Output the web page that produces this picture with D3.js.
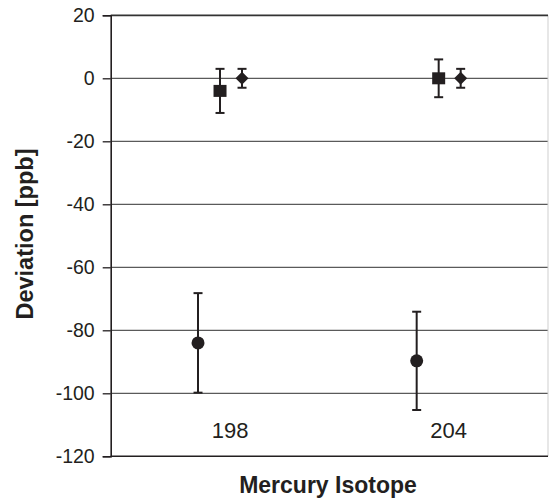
<!DOCTYPE html>
<html>
<head>
<meta charset="utf-8">
<script src="https://cdn.jsdelivr.net/npm/d3@7"></script>
<style>
  html, body { margin: 0; padding: 0; background: #fff; }
  svg { display: block; font-family: "Liberation Sans", Arial, Helvetica, sans-serif; }
</style>
</head>
<body>
<svg id="chart" width="549" height="499"></svg>
<script>
// Isotopes on the x axis
const isotopes = ["198", "204"];
// Y axis ticks
const yTicks = [20, 0, -20, -40, -60, -80, -100, -120];

// Deviation values and error bar half-widths per series
const squareValues = [-4, 0];
const squareErrors = [7, 6];
const diamondValues = [0, 0];
const diamondErrors = [3, 3];
const circleValues = [-84, -89.7];
const circleErrors = [15.8, 15.6];

const ink = "#231f20";
const svg = d3.select("#chart");

const plotLeft = 110.7, plotRight = 548, plotTop = 15.3, plotBottom = 456.3;

const x = d3.scaleBand().domain(isotopes).range([plotLeft, plotRight]);
const y = d3.scaleLinear().domain([-120, 20]).range([plotBottom, plotTop]);

// horizontal gridlines
svg.append("g")
  .selectAll("line")
  .data(yTicks.filter(t => t !== 20 && t !== -120))
  .join("line")
  .attr("x1", plotLeft).attr("x2", plotRight)
  .attr("y1", d => y(d)).attr("y2", d => y(d))
  .attr("stroke", "#5a5a5a")
  .attr("stroke-width", 1.2);

// right border of plot area
svg.append("line")
  .attr("x1", plotRight).attr("x2", plotRight)
  .attr("y1", plotTop).attr("y2", plotBottom)
  .attr("stroke", "#cfcfcf").attr("stroke-width", 1);

// top edge
svg.append("line")
  .attr("x1", plotLeft).attr("x2", plotRight)
  .attr("y1", y(20)).attr("y2", y(20))
  .attr("stroke", "#333").attr("stroke-width", 1.8);

// bottom edge
svg.append("line")
  .attr("x1", plotLeft).attr("x2", plotRight)
  .attr("y1", y(-120)).attr("y2", y(-120))
  .attr("stroke", ink).attr("stroke-width", 1.6);

// left axis
const yAxis = d3.axisLeft(y)
  .tickValues(yTicks)
  .tickSize(8)
  .tickPadding(8)
  .tickFormat(d3.format("d"));

const yg = svg.append("g")
  .attr("transform", `translate(${plotLeft},0)`)
  .call(yAxis);
yg.select(".domain").attr("stroke", ink).attr("stroke-width", 1.6);
yg.selectAll(".tick line").attr("stroke", ink).attr("stroke-width", 1.3);
yg.selectAll(".tick text")
  .attr("fill", ink)
  .attr("font-size", 19.5)
  .attr("font-family", "\"Liberation Sans\", Arial, sans-serif")
  .text(d => d < 0 ? "-" + Math.abs(d) : d);

// category labels inside the plot area
svg.append("g")
  .selectAll("text")
  .data(isotopes)
  .join("text")
  .attr("x", d => x(d) + x.bandwidth() / 2 + 10)
  .attr("y", 438)
  .attr("text-anchor", "middle")
  .attr("font-size", 22)
  .attr("fill", ink)
  .text(d => d);

// series: values, errors, offset within the band, marker shape
const series = [
  { values: circleValues, errors: circleErrors, offset: -22, shape: "circle" },
  { values: squareValues, errors: squareErrors, offset: 0, shape: "square" },
  { values: diamondValues, errors: diamondErrors, offset: 22, shape: "diamond" }
];

const capHalf = 4.5;

series.forEach(s => {
  const pts = isotopes.map((iso, i) => ({
    cx: x(iso) + x.bandwidth() / 2 + s.offset,
    v: s.values[i],
    e: s.errors[i]
  }));
  const g = svg.append("g");

  // error bars
  g.selectAll("line.stem").data(pts).join("line")
    .attr("class", "stem")
    .attr("x1", d => d.cx).attr("x2", d => d.cx)
    .attr("y1", d => y(d.v + d.e)).attr("y2", d => y(d.v - d.e))
    .attr("stroke", ink).attr("stroke-width", 2);
  g.selectAll("line.capTop").data(pts).join("line")
    .attr("class", "capTop")
    .attr("x1", d => d.cx - capHalf).attr("x2", d => d.cx + capHalf)
    .attr("y1", d => y(d.v + d.e)).attr("y2", d => y(d.v + d.e))
    .attr("stroke", ink).attr("stroke-width", 2);
  g.selectAll("line.capBot").data(pts).join("line")
    .attr("class", "capBot")
    .attr("x1", d => d.cx - capHalf).attr("x2", d => d.cx + capHalf)
    .attr("y1", d => y(d.v - d.e)).attr("y2", d => y(d.v - d.e))
    .attr("stroke", ink).attr("stroke-width", 2);

  // markers
  if (s.shape === "circle") {
    g.selectAll("circle").data(pts).join("circle")
      .attr("cx", d => d.cx).attr("cy", d => y(d.v))
      .attr("r", 6.5).attr("fill", ink);
  } else if (s.shape === "square") {
    g.selectAll("rect").data(pts).join("rect")
      .attr("x", d => d.cx - 6.5).attr("y", d => y(d.v) - 6)
      .attr("width", 13).attr("height", 12).attr("fill", ink);
  } else {
    g.selectAll("path").data(pts).join("path")
      .attr("d", d => {
        const cx = d.cx, cy = y(d.v), r = 6.5;
        return `M${cx},${cy - r}L${cx + r},${cy}L${cx},${cy + r}L${cx - r},${cy}Z`;
      })
      .attr("fill", ink);
  }
});

// axis titles
svg.append("text")
  .attr("x", 328).attr("y", 493)
  .attr("text-anchor", "middle")
  .attr("font-size", 23).attr("font-weight", "bold")
  .attr("fill", ink)
  .text("Mercury Isotope");

svg.append("text")
  .attr("transform", "translate(33,234) rotate(-90)")
  .attr("text-anchor", "middle")
  .attr("font-size", 23.5).attr("font-weight", "bold")
  .attr("fill", ink)
  .text("Deviation [ppb]");
</script>
</body>
</html>
